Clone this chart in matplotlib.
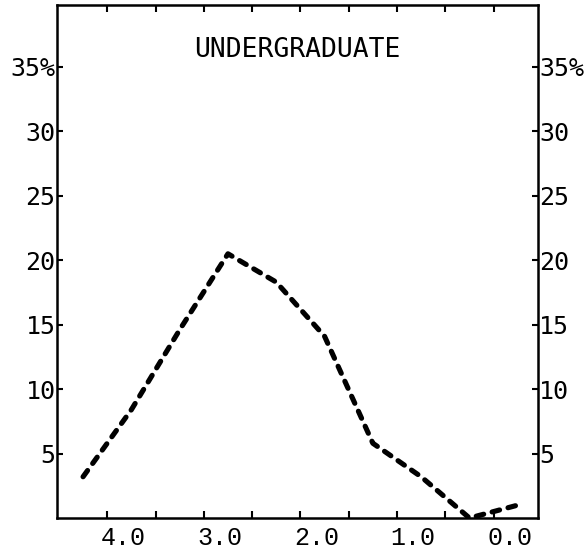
import numpy as np
import matplotlib
matplotlib.use("Agg")
import matplotlib.pyplot as plt
from matplotlib.transforms import ScaledTranslation

# grade point bins (centres) and share of undergraduates (%)
gpa = [4.5, 4.0, 3.5, 3.0, 2.5, 2.0, 1.5, 1.0, 0.5, 0.0]
pct = [3.2, 8.4, 14.6, 20.5, 18.3, 14.1, 5.8, 3.2, 0.0, 1.0]

bin_edges = [4.25, 3.75, 3.25, 2.75, 2.25, 1.75, 1.25, 0.75, 0.25]
x_labels = [4.0, 3.0, 2.0, 1.0, 0.0]
y_ticks = [5, 10, 15, 20, 25, 30, 35]
y_labels = ["5", "10", "15", "20", "25", "30", "35%"]

fig = plt.figure(figsize=(5.85, 5.57), dpi=100)
ax = fig.add_axes([0.0974, 0.070, 0.8223, 0.921])

ax.plot(gpa, pct, color="black", lw=3.7, linestyle=(0, (1.5, 1.7)),
        dash_capstyle="round", solid_capstyle="round")

ax.set_xlim(4.77, -0.21)
ax.set_ylim(0, 39.8)

for s in ax.spines.values():
    s.set_linewidth(1.8)

# tick marks at bin edges, labels at whole grades
ax.set_xticks(bin_edges, minor=True)
ax.set_xticks(x_labels)
ax.set_xticklabels(["%.1f" % v for v in x_labels], family="Liberation Mono", fontsize=18)
ax.tick_params(axis="x", which="major", length=0, pad=6)
ax.tick_params(axis="x", which="minor", direction="in", length=5, width=1.5,
               top=True, bottom=True)
off = ScaledTranslation(-8 / 100, 0, fig.dpi_scale_trans)
for lab in ax.get_xticklabels():
    lab.set_transform(lab.get_transform() + off)

ax.set_yticks(y_ticks)
ax.set_yticklabels(y_labels, family="DejaVu Sans Mono", fontsize=18)
ax.tick_params(axis="y", which="major", direction="in", length=4, width=1.5,
               left=True, right=True, labelleft=True, labelright=True, pad=1)

ax.text(0.5, 0.912, "UNDERGRADUATE", transform=ax.transAxes, ha="center", va="center",
        family="DejaVu Sans Mono", fontsize=19)

fig.savefig("out.png", dpi=100)
